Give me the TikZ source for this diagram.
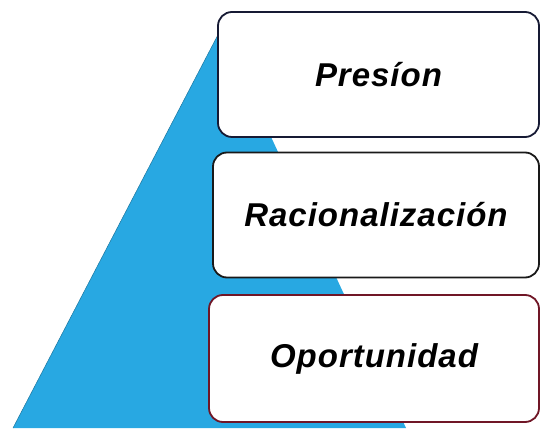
\documentclass[tikz,border=0pt]{standalone}
\usepackage{fontspec}
\newfontfamily\boxfont[LetterSpace=3]{Liberation Sans}
\usetikzlibrary{positioning}
\definecolor{fraudblue}{RGB}{40,168,226}
\definecolor{navyline}{RGB}{22,26,52}
\definecolor{redline}{RGB}{112,22,38}

\begin{document}
\begin{tikzpicture}[x=1pt,y=1pt,on grid,
    factor/.style={draw,line width=1.8pt,fill=white,rounded corners=14pt,
      minimum height=125pt,font=\boxfont\bfseries\itshape\fontsize{33}{38}\selectfont}]
    \useasboundingbox (0,0) rectangle (540,428);
    % triangle behind the boxes
    \coordinate (apex) at (221,399);
    \coordinate (baseL) at (13,0);
    \coordinate (baseR) at (406,0);
    \fill[fraudblue] (baseL) -- (apex) -- (baseR) -- cycle;
    \draw[fraudblue!70!black,line width=0.5pt] (baseL) -- (apex);
    % the three factors
    \node[factor,draw=navyline,minimum width=321pt] (presion) at (378.5,353.5) {Presíon};
    \node[factor,draw=black!90,minimum width=326pt,below=140.5pt of presion,xshift=-2.5pt] (racional) {Racionalización};
    \node[factor,draw=redline,minimum width=330pt,minimum height=127pt,below=143.5pt of racional,xshift=-2pt] (oportun) {Oportunidad};
\end{tikzpicture}
\end{document}
